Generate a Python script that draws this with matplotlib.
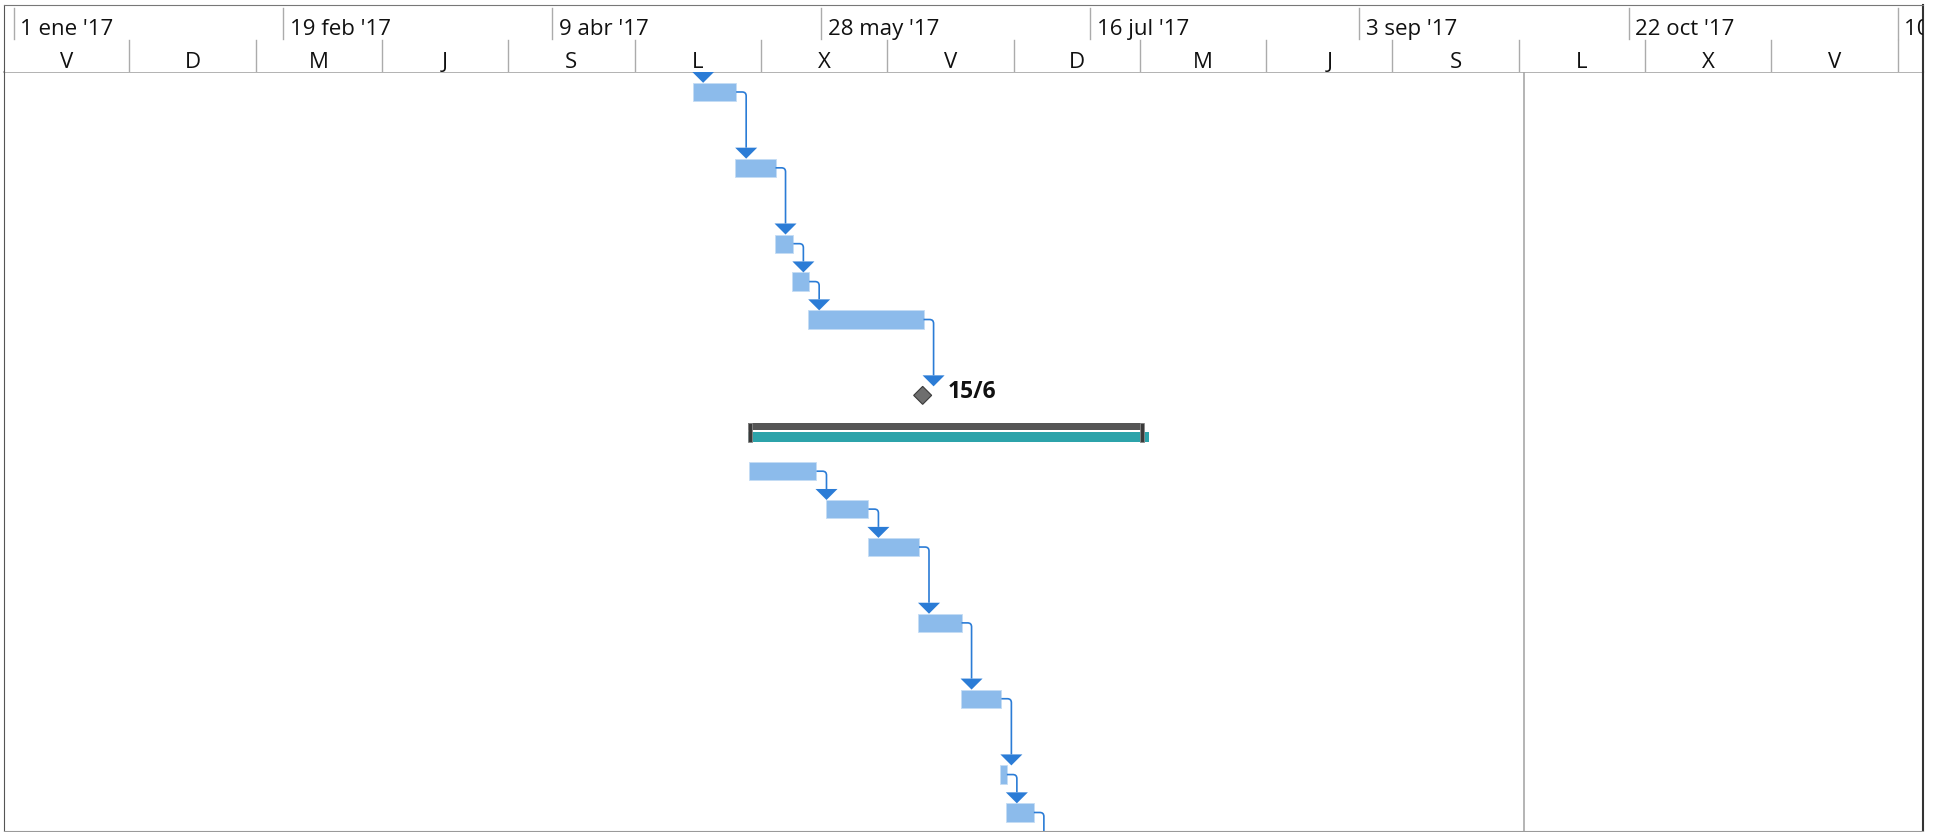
import matplotlib
matplotlib.use('Agg')
import matplotlib.pyplot as plt
from matplotlib.patches import Rectangle, Polygon, PathPatch
from matplotlib.path import Path
import pandas as pd

plt.rcParams['font.family'] = ['Open Sans', 'DejaVu Sans']

ORIGEN = pd.Timestamp('2017-01-01')


def dia(s):
    return (pd.Timestamp(s) - ORIGEN) / pd.Timedelta(days=1)


# escala temporal (nivel superior cada 7 semanas, inferior cada 23 dias)
fechas_sup = ['2017-01-01', '2017-02-19', '2017-04-09', '2017-05-28',
              '2017-07-16', '2017-09-03', '2017-10-22', '2017-12-10']
etiquetas_sup = ["1 ene '17", "19 feb '17", "9 abr '17", "28 may '17",
                 "16 jul '17", "3 sep '17", "22 oct '17", "10 dic '17"]
fechas_inf = ['2016-12-30', '2017-01-22', '2017-02-14', '2017-03-09',
              '2017-04-01', '2017-04-24', '2017-05-17', '2017-06-09',
              '2017-07-02', '2017-07-25', '2017-08-17', '2017-09-09',
              '2017-10-02', '2017-10-25', '2017-11-17', '2017-12-10']
etiquetas_inf = ['V', 'D', 'M', 'J', 'S', 'L', 'X', 'V',
                 'D', 'M', 'J', 'S', 'L', 'X', 'V', 'D']

# tareas
tipo = ['tarea', 'tarea', 'tarea', 'tarea', 'tarea', 'hito', 'resumen',
        'tarea', 'tarea', 'tarea', 'tarea', 'tarea', 'tarea', 'tarea']
fila = [0, 2, 4, 5, 6, 8, 9, 10, 11, 12, 14, 16, 18, 19]
inicio = ['2017-05-04 16:00', '2017-05-12 08:00', '2017-05-19 14:00',
          '2017-05-22 17:00', '2017-05-25 14:00', '2017-06-15 11:00',
          '2017-05-14 14:00', '2017-05-14 22:00', '2017-05-28 22:00',
          '2017-06-05 10:00', '2017-06-14 16:00', '2017-06-22 09:00',
          '2017-06-29 14:00', '2017-06-30 17:00']
fin = ['2017-05-12 12:00', '2017-05-19 16:00', '2017-05-22 22:00',
       '2017-05-25 19:00', '2017-06-15 15:00', '2017-06-15 11:00',
       '2017-07-25 19:00', '2017-05-27 03:00', '2017-06-05 14:00',
       '2017-06-14 19:00', '2017-06-22 13:00', '2017-06-29 19:00',
       '2017-06-30 19:00', '2017-07-05 17:00']
fin_linea_base = '2017-07-26 14:00'   # barra verde del resumen
etiqueta_hito = '15/6'
vinculos = [(0, 1), (1, 2), (2, 3), (3, 4), (4, 5),
            (7, 8), (8, 9), (9, 10), (10, 11), (11, 12), (12, 13)]
fecha_linea = '2017-10-03'

AZUL = '#8cbbeb'
AZUL_OSC = '#2b7cd6'

W, H = 1943, 832
fig = plt.figure(figsize=(W / 100, H / 100), dpi=100)
izq, der, arr, cab, abajo = 3.5, 1923, 4.5, 72, 831
ax = fig.add_axes([izq / W, 1 - abajo / H, (der - izq) / W, (abajo - cab) / H])
axh = fig.add_axes([izq / W, 1 - cab / H, (der - izq) / W, (cab - arr) / H], sharex=ax)

px_dia = 5.4918
px_fila = 37.92
x0 = -10.5 / px_dia
x1 = x0 + (der - izq) / px_dia
ax.set_xlim(x0, x1)
ax.set_ylim(19.488, -0.527)
PXX = 1 / px_dia
PXY = 1 / px_fila

for a in (ax, axh):
    a.set_xticks([])
    a.set_yticks([])

ax.spines['left'].set_color('#555555')
ax.spines['right'].set_color('#333333')
ax.spines['right'].set_linewidth(1.5)
ax.spines['bottom'].set_color('#9a9a9a')
ax.spines['top'].set_color('#a6a6a6')
ax.spines['top'].set_linewidth(1.2)
axh.spines['bottom'].set_visible(False)
axh.spines['top'].set_color('#777777')
axh.spines['left'].set_color('#555555')
axh.spines['right'].set_color('#333333')
axh.spines['right'].set_linewidth(1.5)

# cabecera
axh.set_ylim(cab, arr)
for f, t in zip(fechas_sup, etiquetas_sup):
    x = dia(f)
    axh.plot([x, x], [8, 39], color='#ababab', lw=1.0)
    axh.text(x + 6.5 * PXX, 35, t, fontsize=16, va='baseline', ha='left',
             color='#111111', clip_on=True)
for f, t in zip(fechas_inf, etiquetas_inf):
    x = dia(f)
    axh.plot([x, x], [40, 72], color='#ababab', lw=1.0)
    axh.text(x + 11.5, 68.3, t, fontsize=16, va='baseline', ha='center',
             color='#111111', clip_on=True)

# linea vertical gris
xl = dia(fecha_linea)
ax.plot([xl, xl], [-0.6, 19.6], color='#a8a8a8', lw=1.2)

MED = 9.15 * PXY   # media altura de barra


def tope(i):
    if tipo[i] == 'hito':
        return fila[i] - 9 * PXY
    return fila[i] - MED


def flecha(xc, ydest):
    tri = [(xc - 11 * PXX, ydest - 11 * PXY), (xc + 11 * PXX, ydest - 11 * PXY), (xc, ydest)]
    ax.add_patch(Polygon(tri, closed=True, facecolor=AZUL_OSC, edgecolor='none', zorder=4))


def conector(xe, yc, ydest, con_flecha=True):
    xc = xe + 10 * PXX
    r = 4
    yfin = ydest - 11 * PXY if con_flecha else ydest
    verts = [(xe, yc), (xc - r * PXX, yc), (xc, yc), (xc, yc + r * PXY), (xc, yfin)]
    codes = [Path.MOVETO, Path.LINETO, Path.CURVE3, Path.CURVE3, Path.LINETO]
    ax.add_patch(PathPatch(Path(verts, codes), facecolor='none', edgecolor=AZUL_OSC,
                           lw=1.2, zorder=3))
    if con_flecha:
        flecha(xc, ydest)


# barras
for i in range(len(tipo)):
    xa, xb, y = dia(inicio[i]), dia(fin[i]), fila[i]
    if tipo[i] == 'tarea':
        ax.add_patch(Rectangle((xa, y - MED), xb - xa, 2 * MED, facecolor=AZUL,
                               edgecolor='#c4dcf5', lw=0.6, zorder=2))
    elif tipo[i] == 'hito':
        dx, dy = 9 * PXX, 9 * PXY
        ax.add_patch(Polygon([(xa - dx, y), (xa, y - dy), (xa + dx, y), (xa, y + dy)],
                             closed=True, facecolor='#6e6e6e', edgecolor='#3a3a3a',
                             lw=0.8, zorder=2))
        ax.text(xa + 24.7 * PXX, y + 3 * PXY, etiqueta_hito, fontsize=16.5,
                fontweight='bold', va='baseline', ha='left', color='#111111')
    else:
        xt = dia(fin_linea_base)
        ax.add_patch(Rectangle((xa, y - 1 * PXY), xt - xa, 10 * PXY,
                               facecolor='#2ca3aa', edgecolor='none', zorder=2))
        ax.add_patch(Rectangle((xa, y - 10 * PXY), xb - xa, 6.7 * PXY,
                               facecolor='#555555', edgecolor='none', zorder=2))
        for xcap in (xa, xb - 4.5 * PXX):
            ax.add_patch(Rectangle((xcap, y - 10 * PXY), 4.5 * PXX, 19 * PXY,
                                   facecolor='#3a3a3a', edgecolor='#8a8a8a',
                                   lw=0.6, zorder=3))

# vinculos
for a, b in vinculos:
    conector(dia(fin[a]), fila[a], tope(b))

# entrada desde arriba a la primera tarea y salida de la ultima
flecha(dia(inicio[0]) + 10 * PXX, tope(0))
conector(dia(fin[13]), fila[13], 19.6, con_flecha=False)

fig.savefig('out.png', dpi=100)
